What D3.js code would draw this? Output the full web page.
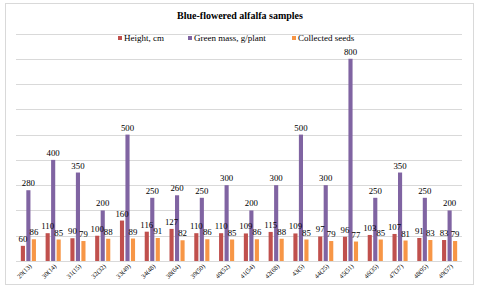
<!DOCTYPE html>
<html>
<head>
<meta charset="utf-8">
<script src="https://cdn.jsdelivr.net/npm/d3@7"></script>
<style>
  body { margin: 0; background: #fff; }
  svg text { font-family: "Liberation Serif", "Times New Roman", serif; fill: #000; }
</style>
</head>
<body>
<svg id="chart" width="480" height="291"></svg>
<script>
// Chart data.
const categories = [ '29(13)', '30(14)', '31(15)', '32(32)', '33(49)', '34(48)', '38(64)', '39(50)', '40(52)',
                     '41(54)', '42(68)', '43(5)', '44(25)', '45(51)', '46(35)', '47(37)', '48(95)', '49(57)' ];
const heightCm   = [ 60, 110, 90, 100, 160, 116, 127, 110, 110, 109, 115, 109, 97, 96, 103, 107, 91, 83 ];
const greenMass  = [ 280, 400, 350, 200, 500, 250, 260, 250, 300, 200, 300, 500, 300, 800, 250, 350, 250, 200 ];
const seeds      = [ 86, 85, 79, 88, 89, 91, 82, 86, 85, 86, 88, 85, 79, 77, 85, 81, 83, 79 ];
const seriesNames = [ 'Height, cm', 'Green mass, g/plant', 'Collected seeds' ];
const yTicks     = [ 0, 100, 200, 300, 400, 500, 600, 700, 800, 900 ];

const colors = [ '#C0504D', '#8064A2', '#F79646' ];
const series = [ heightCm, greenMass, seeds ];

const svg = d3.select( '#chart' );
const plot = { left: 16, right: 462, top: 33.5, bottom: 261 };

// Outer chart border.
svg.append( 'rect' )
  .attr( 'x', 5.5 ).attr( 'y', 3.5 )
  .attr( 'width', 468 ).attr( 'height', 281 )
  .attr( 'fill', '#fff' ).attr( 'stroke', '#D9D9D9' );

// Scales.
const x0 = d3.scaleBand( )
  .domain( categories )
  .range( [ plot.left, plot.right ] )
  .paddingInner( 0.39 )
  .paddingOuter( 0.195 );
const x1 = d3.scaleBand( )
  .domain( d3.range( series.length ) )
  .range( [ 0, x0.bandwidth( ) ] )
  .paddingInner( 0.25 );
const y = d3.scaleLinear( )
  .domain( [ 0, 900 ] )
  .range( [ plot.bottom, plot.top ] );

// Gridlines.
svg.append( 'g' )
  .selectAll( 'line' )
  .data( yTicks )
  .enter( )
  .append( 'line' )
    .attr( 'x1', plot.left ).attr( 'x2', plot.right )
    .attr( 'y1', d => Math.round( y( d ) ) + 0.5 )
    .attr( 'y2', d => Math.round( y( d ) ) + 0.5 )
    .attr( 'stroke', '#D9D9D9' );

// Title.
svg.append( 'text' )
  .attr( 'x', 240 ).attr( 'y', 19 )
  .attr( 'text-anchor', 'middle' )
  .style( 'font-size', '10px' )
  .style( 'font-weight', 'bold' )
  .text( 'Blue-flowered alfalfa samples' );

// Legend.
const legendX = [ 118, 188, 292 ];
const legend = svg.append( 'g' );
seriesNames.forEach( ( name, i ) => {
  legend.append( 'rect' )
    .attr( 'x', legendX[i] ).attr( 'y', 36 )
    .attr( 'width', 4 ).attr( 'height', 4 )
    .attr( 'fill', colors[i] );
  legend.append( 'text' )
    .attr( 'x', legendX[i] + 6 ).attr( 'y', 41 )
    .style( 'font-size', '9px' )
    .text( name );
} );

// Bars first, then the value labels on top of every bar.
const barLayer   = svg.append( 'g' );
const labelLayer = svg.append( 'g' );

series.forEach( ( values, s ) => {
  barLayer.append( 'g' )
    .selectAll( 'rect' )
    .data( categories )
    .enter( )
    .append( 'rect' )
      .attr( 'x', d => x0( d ) + x1( s ) )
      .attr( 'y', ( d, i ) => y( values[i] ) )
      .attr( 'width', x1.bandwidth( ) )
      .attr( 'height', ( d, i ) => plot.bottom - y( values[i] ) )
      .attr( 'fill', colors[s] );
  labelLayer.append( 'g' )
    .selectAll( 'text' )
    .data( categories )
    .enter( )
    .append( 'text' )
      .attr( 'x', d => x0( d ) + x1( s ) + x1.bandwidth( ) / 2 )
      .attr( 'y', ( d, i ) => y( values[i] ) - 4 )
      .attr( 'text-anchor', 'middle' )
      .style( 'font-size', '8.8px' )
      .text( ( d, i ) => values[i] );
} );

// Rotated category labels.
svg.append( 'g' )
  .selectAll( 'text' )
  .data( categories )
  .enter( )
  .append( 'text' )
    .attr( 'transform', d => `translate(${x0( d ) + x0.bandwidth( ) / 2 + 2},265) rotate(-45)` )
    .attr( 'text-anchor', 'end' )
    .attr( 'dy', '0.35em' )
    .style( 'font-size', '6.5px' )
    .text( d => d );
</script>
</body>
</html>
